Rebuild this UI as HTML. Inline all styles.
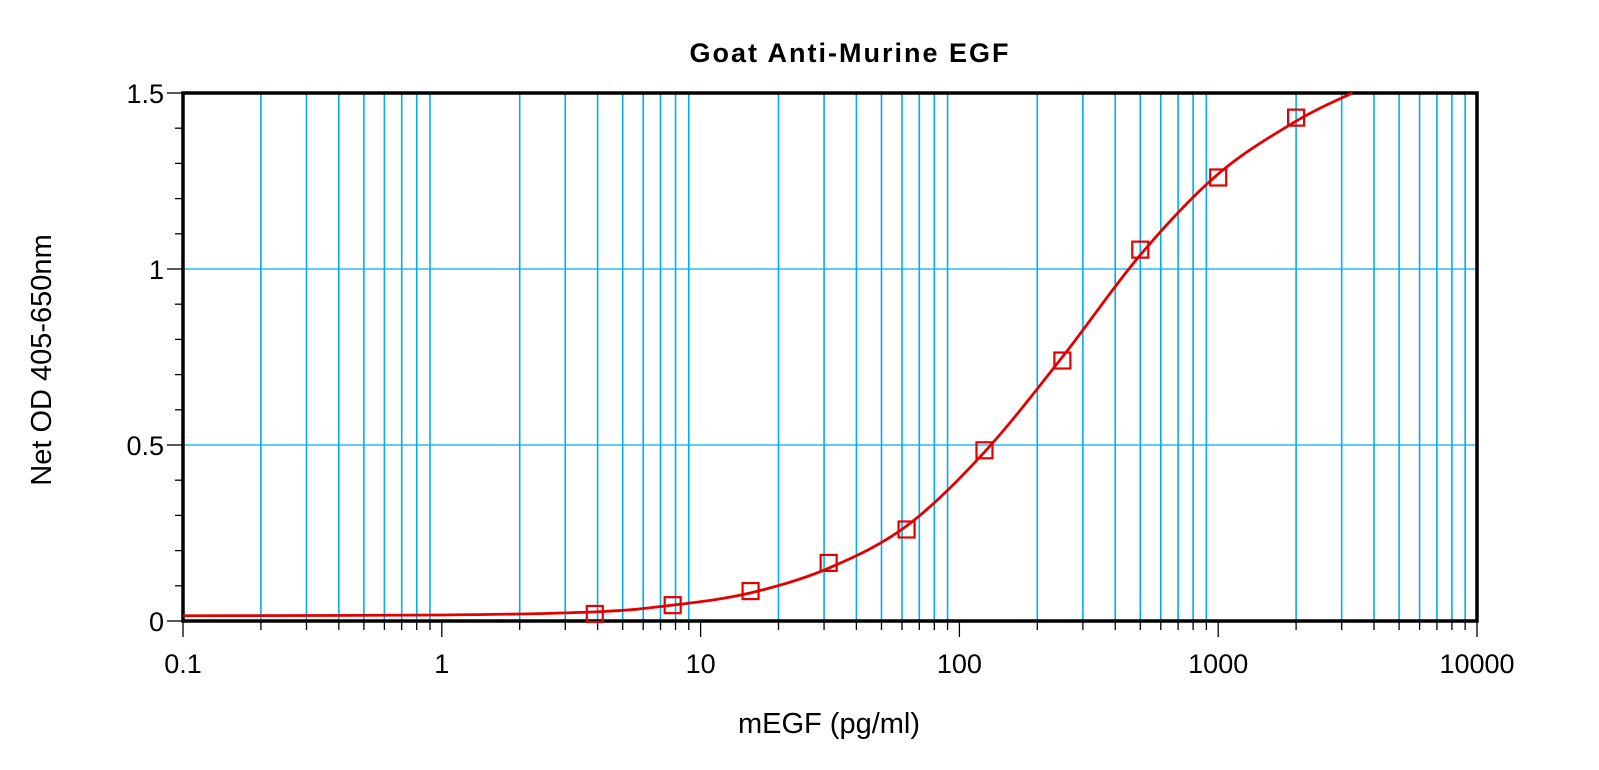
<!DOCTYPE html>
<html><head><meta charset="utf-8"><style>
html,body{margin:0;padding:0;background:#fff;}
svg text{font-family:"Liberation Sans",Arial,sans-serif;}
</style></head><body>
<svg id="s" width="1599" height="765" xmlns="http://www.w3.org/2000/svg"></svg>
<script>
const s=document.getElementById('s');
const L=183,R=1477,T=93,B=621;
const X=v=>L+(Math.log10(v)+1)*(R-L)/5;
const Y=v=>B-v*(B-T)/1.5;
let h='';
for(let d=-1;d<4;d++){for(let k=1;k<10;k++){const v=k*Math.pow(10,d);const x=X(v);
 if(k!=1) h+=`<line x1="${x}" y1="${T}" x2="${x}" y2="${B}" stroke="#00aeef" stroke-width="1.6"/>`;
 h+=`<line x1="${x}" y1="${B}" x2="${x}" y2="${B+(k==1?16:9)}" stroke="#000" stroke-width="1.3"/>`;}}
h+=`<line x1="${R}" y1="${B}" x2="${R}" y2="${B+16}" stroke="#000" stroke-width="1.3"/>`;
[0.5,1].forEach(v=>h+=`<line x1="${L}" y1="${Y(v)}" x2="${R}" y2="${Y(v)}" stroke="#00aeef" stroke-width="1.3"/>`);
for(let i=0;i<=15;i++){const y=Y(i/10);h+=`<line x1="${i%5==0?167:175}" y1="${y}" x2="${L}" y2="${y}" stroke="#000" stroke-width="1.3"/>`;}
h+=`<rect x="${L}" y="${T}" width="${R-L}" height="${B-T}" fill="none" stroke="#000" stroke-width="3.5"/>`;
[["0",0],["0.5",0.5],["1",1],["1.5",1.5]].forEach(a=>h+=`<text x="164" y="${Y(a[1])+10}" font-size="27" text-anchor="end">${a[0]}</text>`);
["0.1","1","10","100","1000","10000"].forEach((t,i)=>h+=`<text x="${L+i*(R-L)/5}" y="673" font-size="27" text-anchor="middle">${t}</text>`);
h+=`<text x="850" y="62" font-size="27" font-weight="bold" letter-spacing="2" text-anchor="middle">Goat Anti-Murine EGF</text>`;
h+=`<text x="829" y="733" font-size="29" text-anchor="middle">mEGF (pg/ml)</text>`;
h+=`<text transform="translate(51,360) rotate(-90)" font-size="29" text-anchor="middle">Net OD 405-650nm</text>`;
const cp=[[0.1,0.015],[1,0.017],[3.9,0.026],[7.8,0.045],[15.6,0.08],[31.25,0.15],[62.5,0.27],[125,0.48],[250,0.75],[500,1.04],[1000,1.27],[2000,1.42],[3300,1.5]];
const P=cp.map(p=>[X(p[0]),Y(p[1])]);
let d=`M${P[0][0]},${P[0][1]}`;
for(let i=0;i<P.length-1;i++){const p0=P[Math.max(0,i-1)],p1=P[i],p2=P[i+1],p3=P[Math.min(P.length-1,i+2)];
 const c1=[p1[0]+(p2[0]-p0[0])/6,p1[1]+(p2[1]-p0[1])/6],c2=[p2[0]-(p3[0]-p1[0])/6,p2[1]-(p3[1]-p1[1])/6];
 d+=` C${c1[0]},${c1[1]} ${c2[0]},${c2[1]} ${p2[0]},${p2[1]}`;}
h+=`<path d="${d}" fill="none" stroke="#e30000" stroke-width="2.8"/>`;
const pts=[[3.9,0.02],[7.8,0.045],[15.6,0.085],[31.25,0.165],[62.5,0.26],[125,0.485],[250,0.74],[500,1.055],[1000,1.26],[2000,1.43]];
pts.forEach(p=>{const x=X(p[0]),y=Y(p[1]);h+=`<rect x="${x-8}" y="${y-8}" width="16" height="16" fill="none" stroke="#e30000" stroke-width="2.2"/>`;});
s.innerHTML=h;
</script>
</body></html>
